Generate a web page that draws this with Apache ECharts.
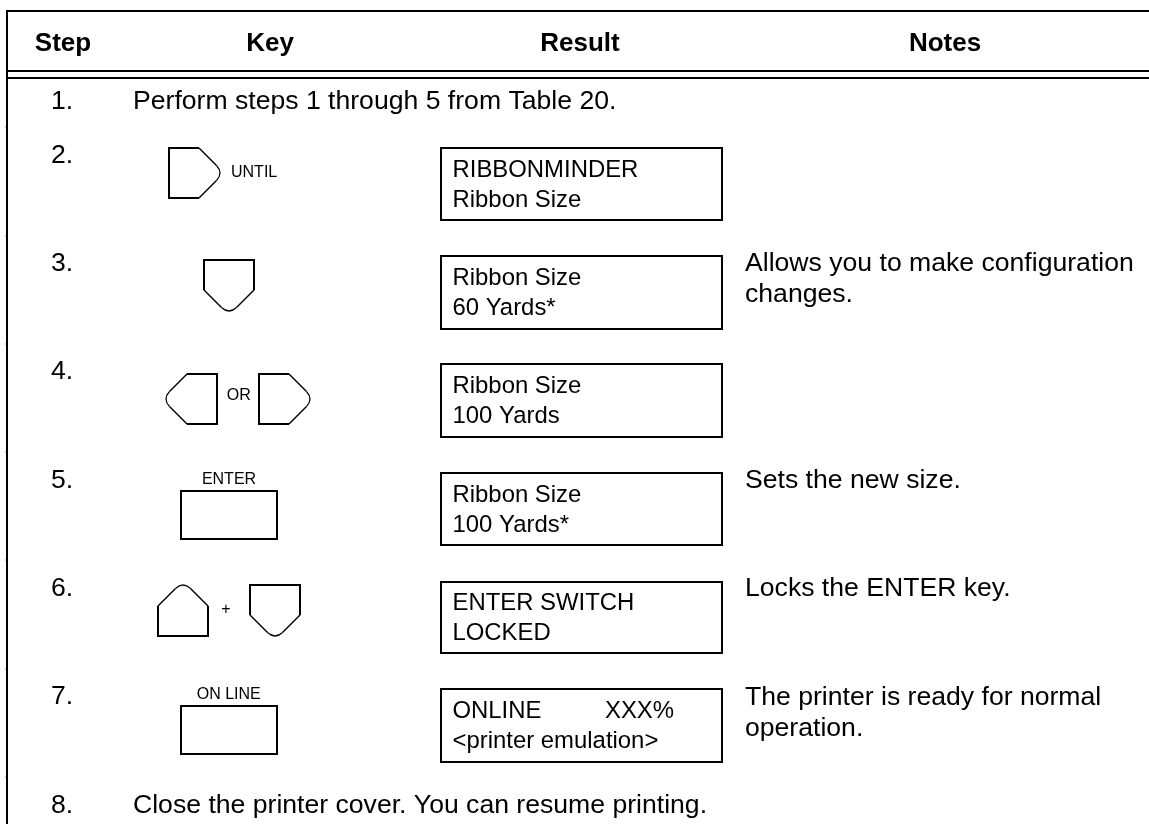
<!DOCTYPE html>
<html>
<head>
<meta charset="utf-8">
<style>html,body{margin:0;padding:0;background:#fff}#c{width:1149px;height:824px}</style>
<script src="https://cdn.jsdelivr.net/npm/echarts@6/dist/echarts.min.js"></script>
</head>
<body>
<div id="c"></div>
<script>
// ---- table content ----
const headers = ['Step', 'Key', 'Result', 'Notes'];
const steps = ['1.', '2.', '3.', '4.', '5.', '6.', '7.', '8.'];
const spanningText = {0: 'Perform steps 1 through 5 from Table 20.', 7: 'Close the printer cover. You can resume printing.'};
const resultLine1 = [null, 'RIBBONMINDER', 'Ribbon Size', 'Ribbon Size', 'Ribbon Size', 'ENTER SWITCH', 'ONLINE', null];
const resultLine1b = [null, null, null, null, null, null, 'XXX%', null];
const resultLine2 = [null, 'Ribbon Size', '60 Yards*', '100 Yards', '100 Yards*', 'LOCKED', '<printer emulation>', null];
const notes = [[], [], ['Allows you to make configuration', 'changes.'], [], ['Sets the new size.'], ['Locks the ENTER key.'], ['The printer is ready for normal', 'operation.'], []];
const keyKinds = [[], ['right'], ['down'], ['left', 'right'], ['rect'], ['up', 'down'], ['rect'], []];
const keyCaptions = ['', 'UNTIL', '', 'OR', 'ENTER', '+', 'ON LINE', ''];

// ---- layout, in page units on hidden 0..1149 / 0..824 axes ----
const FONT = '"Liberation Sans", Arimo, Helvetica, Arial, sans-serif';
const BODY = 26.6, BOX = 23.9, SMALL = 16;
const stepBase = [108, 162, 270, 378, 487, 595, 703, 812];
const boxTop = [0, 148, 256, 364, 473, 582, 689, 0];
const boxBottom = [0, 220, 329, 437, 545, 653, 762, 0];
const line1Base = [0, 177, 285, 393, 501.7, 609.5, 718, 0];
const line2Base = [0, 207, 315, 423, 531.7, 640, 748, 0];
const noteBase = [0, 0, 270, 0, 487, 595, 704, 0];
const keyX = [[], [169], [204], [166, 259], [181], [158, 250], [181], []];
const keyY = [0, 148, 260, 374, 491, 585, 706, 0];
const captionPos = {1: [231, 170.7, 'left'], 3: [238.8, 394.2, 'center'], 4: [229, 478.2, 'center'], 5: [226, 608, 'center'], 6: [228.7, 692.5, 'center']};
const headerX = [63, 270, 580, 945];
const rowTicks = [127, 236, 344, 452, 560, 669, 777];

function render(params, api) {
  const i = params.dataIndex;
  const P = (x, y) => api.coord([x, y]);
  const kids = [];
  const line = (x1, y1, x2, y2, w, col) => {
    const a = P(x1, y1), b = P(x2, y2);
    kids.push({type: 'line', shape: {x1: a[0], y1: a[1], x2: b[0], y2: b[1]}, style: {stroke: col || '#000', lineWidth: w, fill: null}, silent: true});
  };
  const text = (s, x, base, size, align, bold) => {
    const p = P(x, base - 0.255 * size);
    kids.push({type: 'text', x: p[0], y: p[1], style: {text: s, fill: '#000', font: (bold ? 'bold ' : '') + size + 'px ' + FONT, align: align || 'left', verticalAlign: 'middle'}, silent: true});
  };
  const box = (x1, y1, x2, y2) => {
    const a = P(x1, y1), b = P(x2, y2);
    kids.push({type: 'rect', shape: {x: a[0], y: a[1], width: b[0] - a[0], height: b[1] - a[1]}, style: {stroke: '#000', lineWidth: 2, fill: null}, silent: true});
  };
  const keyShape = (kind, x0, y0) => {
    if (kind === 'rect') { box(x0, y0, x0 + 96, y0 + 48); return; }
    // u runs along the pointing direction, v across it
    const m = {
      right: (u, v) => [x0 + u, y0 + v],
      left: (u, v) => [x0 + 51 - u, y0 + v],
      up: (u, v) => [x0 + v, y0 + 51 - u],
      down: (u, v) => [x0 + v, y0 + u]
    }[kind];
    const L = (u1, v1, u2, v2, w) => { const a = m(u1, v1), b = m(u2, v2); line(a[0], a[1], b[0], b[1], w); };
    L(0, -1, 0, 51, 2); L(0, 0, 30, 0, 2); L(0, 50, 30, 50, 2);
    L(30, 0, 47.5, 17.5, 1.4); L(30, 50, 47.5, 32.5, 1.4);
    const s = P(...m(47.5, 17.5)), c = P(...m(54.5, 25)), e = P(...m(47.5, 32.5));
    kids.push({type: 'bezierCurve', shape: {x1: s[0], y1: s[1], cpx1: c[0], cpy1: c[1], x2: e[0], y2: e[1]}, style: {stroke: '#000', lineWidth: 1.2, fill: null}, silent: true});
  };

  if (i === 0) { // table frame and header
    line(6, 11, 1149, 11, 2);
    line(7, 10, 7, 824, 2);
    line(7, 71, 1149, 71, 2);
    line(7, 78, 1149, 78, 2);
    rowTicks.forEach(t => line(5, t, 6, t, 1, '#999'));
    headers.forEach((h, k) => text(h, headerX[k], 50, 26, 'center', true));
  }
  text(steps[i], 51, stepBase[i], BODY);
  if (spanningText[i]) text(spanningText[i], 133, stepBase[i], BODY);
  if (resultLine1[i]) {
    box(441, boxTop[i], 722, boxBottom[i]);
    text(resultLine1[i], 452.5, line1Base[i], BOX);
    if (resultLine1b[i]) text(resultLine1b[i], 605, line1Base[i], BOX);
    text(resultLine2[i], 452.5, line2Base[i], BOX);
  }
  notes[i].forEach((s, k) => text(s, 745, noteBase[i] + k * 31.5, BODY));
  keyKinds[i].forEach((kind, k) => keyShape(kind, keyX[i][k], keyY[i]));
  if (keyCaptions[i]) {
    const c = captionPos[i];
    text(keyCaptions[i], c[0], c[1] + 0.358 * SMALL, SMALL, c[2]);
  }
  return {type: 'group', children: kids};
}

const chart = echarts.init(document.getElementById('c'), null, {renderer: 'canvas'});
chart.setOption({
  animation: false,
  backgroundColor: '#fff',
  grid: {left: 0, right: 0, top: 0, bottom: 0},
  xAxis: {type: 'value', min: 0, max: 1149, show: false},
  yAxis: {type: 'value', min: 0, max: 824, inverse: true, show: false},
  series: [{type: 'custom', clip: false, coordinateSystem: 'cartesian2d', renderItem: render, encode: {x: 0, y: 1}, data: steps.map((s, i) => [0, stepBase[i], s])}]
});
</script>
</body>
</html>
